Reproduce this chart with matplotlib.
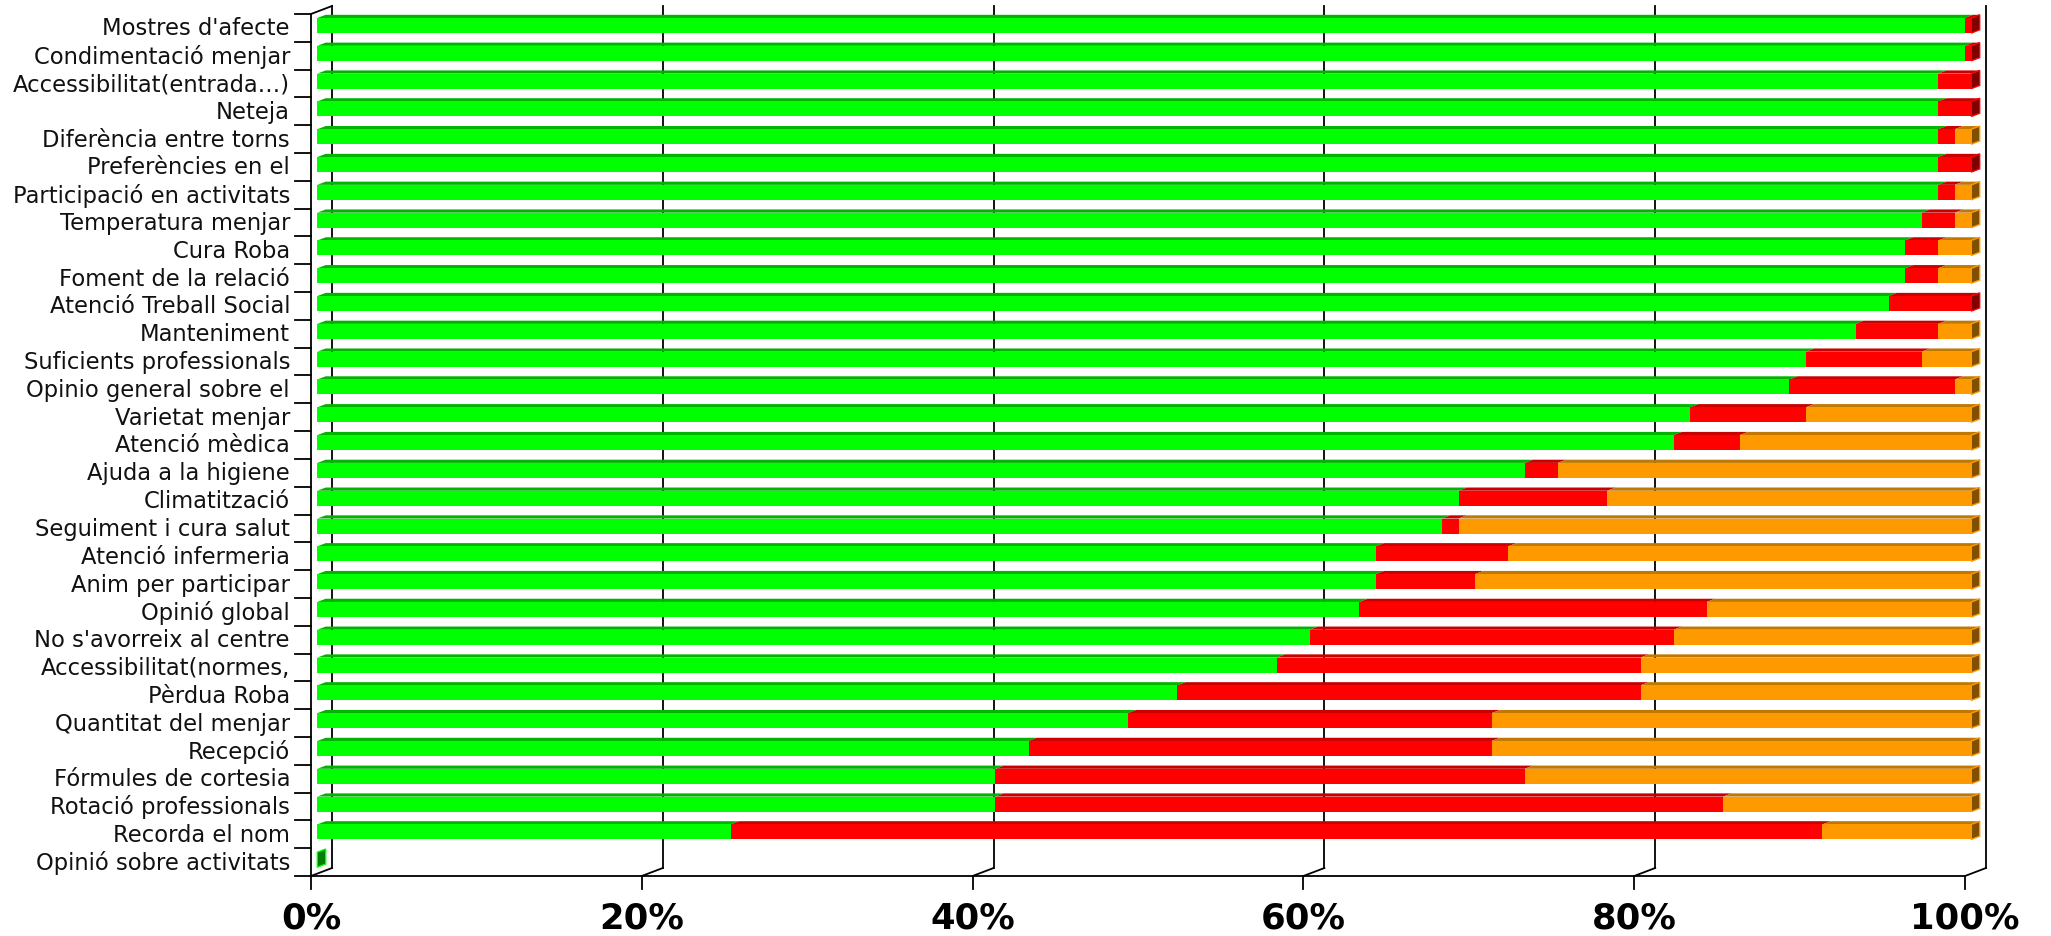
import matplotlib
matplotlib.use("Agg")
import matplotlib.pyplot as plt
from matplotlib.patches import Polygon

# Survey items, top to bottom
categories = [
    "Mostres d'afecte", "Condimentació menjar", "Accessibilitat(entrada…)", "Neteja",
    "Diferència entre torns", "Preferències en el", "Participació en activitats",
    "Temperatura menjar", "Cura Roba", "Foment de la relació", "Atenció Treball Social",
    "Manteniment", "Suficients professionals", "Opinio general sobre el", "Varietat menjar",
    "Atenció mèdica", "Ajuda a la higiene", "Climatització", "Seguiment i cura salut",
    "Atenció infermeria", "Anim per participar", "Opinió global", "No s'avorreix al centre",
    "Accessibilitat(normes,", "Pèrdua Roba", "Quantitat del menjar", "Recepció",
    "Fórmules de cortesia", "Rotació professionals", "Recorda el nom", "Opinió sobre activitats",
]

# percentage of answers per item
green_pct = [99.6, 99.6, 98, 98, 98, 98, 98, 97, 96, 96, 95, 93, 90, 89, 83, 82, 73, 69, 68,
             64, 64, 63, 60, 58, 52, 49, 43, 41, 41, 25, 0]
red_pct = [0.4, 0.4, 2, 2, 1, 2, 1, 2, 2, 2, 5, 5, 7, 10, 7, 4, 2, 9, 1,
           8, 6, 21, 22, 22, 28, 22, 28, 32, 44, 66, 0]
orange_pct = [0, 0, 0, 0, 1, 0, 1, 1, 2, 2, 0, 2, 3, 1, 10, 14, 25, 22, 31,
              28, 30, 16, 18, 20, 20, 29, 29, 27, 15, 9, 0]

xticks = [0, 20, 40, 60, 80, 100]
xtick_labels = ["0%", "20%", "40%", "60%", "80%", "100%"]

W, H = 2051, 937
fig = plt.figure(figsize=(W / 100, H / 100), dpi=100)

# front plane of the pseudo-3D box, in pixels
left_px, right_px, top_px, bottom_px = 311, 1965, 15, 877
ax = fig.add_axes([left_px / W, 1 - bottom_px / H, (right_px - left_px) / W, (bottom_px - top_px) / H])
n = len(categories)
ax.set_xlim(0, 100)
ax.set_ylim(n, 0)
ax.axis("off")

px_x = (right_px - left_px) / 100.0   # pixels per percent
px_y = (bottom_px - top_px) / n       # pixels per row

# depth offset of the back wall
DX = 21 / px_x
DY = 8 / px_y

line_kw = dict(color="black", lw=1.3, clip_on=False, zorder=1)

# left wall
ax.plot([0, 0], [0, n], **line_kw)
ax.plot([0, DX], [0, -DY], **line_kw)
ax.plot([DX, DX], [-DY, n - DY], **line_kw)
ax.plot([0, DX], [n, n - DY], **line_kw)
# category ticks and base line
tick_len = 16 / px_x
for k in range(n):
    ax.plot([-tick_len, 0], [k, k], **line_kw)
ax.plot([-tick_len, 100], [n, n], **line_kw)

# grid on the back wall, floor diagonals and value ticks
for xv in xticks:
    if xv > 0:
        ax.plot([xv + DX, xv + DX], [-DY, n - DY], **line_kw)
        ax.plot([xv, xv + DX], [n, n - DY], **line_kw)
    ax.plot([xv, xv], [n, n + 13 / px_y], **line_kw)

for xv, lab in zip(xticks, xtick_labels):
    ax.text(xv, n + 42 / px_y, lab, ha="center", va="center", fontsize=25.5,
            fontweight="bold", family="DejaVu Sans", clip_on=False)

for i, cat in enumerate(categories):
    ax.text(-21 / px_x, i + 0.5, cat, ha="right", va="center", fontsize=16.3,
            family="DejaVu Sans", color="#111111", clip_on=False)

# bar faces: front, top, side
face_cols = {
    "green": ("#00ff00", "#00b400", "#008000"),
    "red": ("#ff0000", "#c80000", "#800000"),
    "orange": ("#ff9900", "#c07800", "#804f00"),
}

t0, dt = 0.3, 0.4
half_h = 7.5 / px_y

def draw_segment(ax, x0, x1, yc, cols, cap):
    front, top, side = cols
    ox, oy = t0 * DX, -t0 * DY
    a, b = x0 + ox, x1 + ox
    yt, yb = yc - half_h + oy, yc + half_h + oy
    ddx, ddy = dt * DX, -dt * DY
    ax.add_patch(Polygon([(a, yt), (b, yt), (b + ddx, yt + ddy), (a + ddx, yt + ddy)],
                         closed=True, fc=top, ec="none", zorder=3, clip_on=False))
    ax.add_patch(Polygon([(a, yt), (b, yt), (b, yb), (a, yb)],
                         closed=True, fc=front, ec="none", zorder=4, clip_on=False))
    if cap:
        ax.add_patch(Polygon([(b, yt), (b, yb), (b + ddx, yb + ddy), (b + ddx, yt + ddy)],
                             closed=True, fc=side, ec=front, lw=1.0, zorder=5, clip_on=False))

for i in range(n):
    yc = i + 0.5
    segs = [(green_pct[i], "green"), (red_pct[i], "red"), (orange_pct[i], "orange")]
    segs = [(v, c) for v, c in segs if v > 0]
    if not segs:
        # empty item: only the end face of a zero-length bar
        draw_segment(ax, 0, 0, yc, face_cols["green"], True)
        continue
    start = 0
    for j, (v, c) in enumerate(segs):
        draw_segment(ax, start, start + v, yc, face_cols[c], j == len(segs) - 1)
        start += v

fig.savefig("out.png", dpi=100, facecolor="white")
